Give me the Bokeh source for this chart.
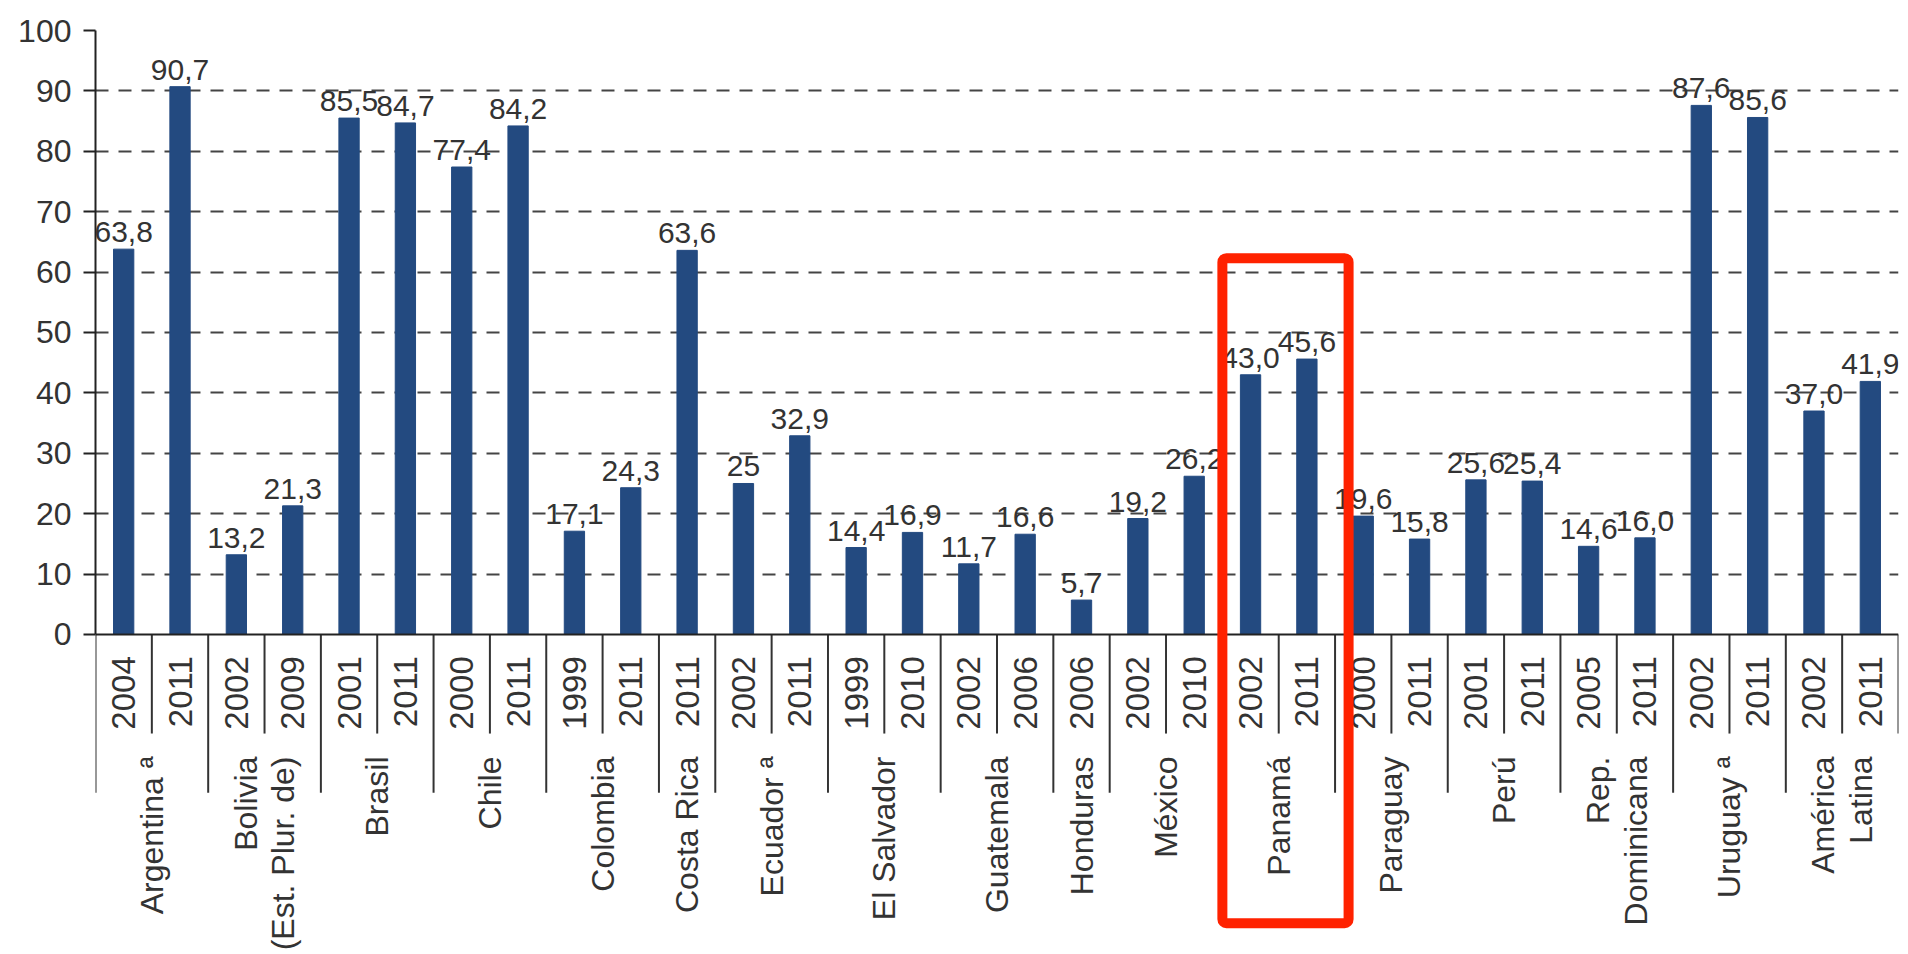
import math
import numpy as np
from bokeh.plotting import figure
from bokeh.models import ColumnDataSource, Range1d, FixedTicker, Span, BoxAnnotation
from bokeh.core.properties import value as V
from bokeh.embed import file_html
from bokeh.resources import INLINE

# ---------------- data ----------------
country = (["Argentina ª"] * 2 + ["Bolivia\n(Est. Plur. de)"] * 2 + ["Brasil"] * 2 +
           ["Chile"] * 2 + ["Colombia"] * 2 + ["Costa Rica"] + ["Ecuador ª"] * 2 +
           ["El Salvador"] * 2 + ["Guatemala"] * 2 + ["Honduras"] + ["México"] * 2 +
           ["Panamá"] * 2 + ["Paraguay"] * 2 + ["Perú"] * 2 + ["Rep.\nDominicana"] * 2 +
           ["Uruguay ª"] * 2 + ["América\nLatina"] * 2)
year = ["2004", "2011", "2002", "2009", "2001", "2011", "2000", "2011", "1999", "2011",
        "2011", "2002", "2011", "1999", "2010", "2002", "2006", "2006", "2002", "2010",
        "2002", "2011", "2000", "2011", "2001", "2011", "2005", "2011", "2002", "2011",
        "2002", "2011"]
values = [63.8, 90.7, 13.2, 21.3, 85.5, 84.7, 77.4, 84.2, 17.1, 24.3,
          63.6, 25.0, 32.9, 14.4, 16.9, 11.7, 16.6, 5.7, 19.2, 26.2,
          43.0, 45.6, 19.6, 15.8, 25.6, 25.4, 14.6, 16.0, 87.6, 85.6,
          37.0, 41.9]
value_labels = ["63,8", "90,7", "13,2", "21,3", "85,5", "84,7", "77,4", "84,2", "17,1", "24,3",
                "63,6", "25", "32,9", "14,4", "16,9", "11,7", "16,6", "5,7", "19,2", "26,2",
                "43,0", "45,6", "19,6", "15,8", "25,6", "25,4", "14,6", "16,0", "87,6", "85,6",
                "37,0", "41,9"]
y_ticks = [0, 10, 20, 30, 40, 50, 60, 70, 80, 90, 100]
highlight = "Panamá"

# ---------------- layout constants ----------------
FONT = "Liberation Sans"
TXT = "#333333"
BAR = "#234A80"
Y_BOTTOM = -52.65
YEAR_Y = -3.6
COUNTRY_Y = -20.2
SHORT_SEP = -16.4
LONG_SEP = -26.2

n = len(values)
xs = np.arange(n) + 0.5
src = ColumnDataSource(dict(x=xs, value=values, label=value_labels, year=year))

# groups from consecutive runs
groups = []
for i, c in enumerate(country):
    if i == 0 or c != country[i - 1]:
        groups.append([c, i, i + 1])
    else:
        groups[-1][2] = i + 1
gsrc = ColumnDataSource(dict(x=[(g[1] + g[2]) / 2 for g in groups],
                             name=[g[0] for g in groups]))
starts = {g[1] for g in groups}
bounds_x = list(range(n + 1))
sep_end = [LONG_SEP if (b in starts) else SHORT_SEP for b in bounds_x]
ssrc = ColumnDataSource(dict(b=bounds_x, end=sep_end))

p = figure(width=1906, height=952, x_range=Range1d(0, n), y_range=Range1d(Y_BOTTOM, 100),
           output_backend="svg", toolbar_location=None, x_axis_location=None,
           min_border_left=95, min_border_right=8, min_border_top=30, min_border_bottom=0)
p.outline_line_color = None
p.xgrid.visible = False

ax = p.yaxis[0]
ax.bounds = (0, 100)
ax.ticker = FixedTicker(ticks=y_ticks)
ax.minor_tick_line_color = None
ax.major_tick_out = 12
ax.major_tick_in = 0
ax.axis_line_width = 2
ax.axis_line_color = "#222222"
ax.major_tick_line_width = 2
ax.major_tick_line_color = "#222222"
ax.major_label_text_font = FONT
ax.major_label_text_font_size = "32px"
ax.major_label_text_color = TXT
ax.major_label_standoff = 12

g = p.ygrid[0]
g.ticker = FixedTicker(ticks=y_ticks[1:])
g.grid_line_dash = "13 10"
g.grid_line_color = "#444444"
g.grid_line_width = 2

p.vbar(x="x", top="value", bottom=0, width=0.36, source=src, fill_color=BAR, line_color=BAR)

p.add_layout(Span(location=0, dimension="width", line_color="#222222", line_width=2))

p.segment(x0="b", y0=0, x1="b", y1="end", source=ssrc, line_color="#333333", line_width=2)

p.text(x="x", y="value", text="label", source=src, text_align="center", y_offset=-17,
       text_baseline="alphabetic", text_font=V(FONT), text_font_size="30px", text_color=TXT)

p.text(x="x", y=YEAR_Y, text="year", source=src, angle=math.pi / 2, text_align="right",
       text_baseline="middle", text_font=V(FONT), text_font_size="33px", text_color=TXT)

p.text(x="x", y=COUNTRY_Y, text="name", source=gsrc, angle=math.pi / 2, text_align="right",
       text_baseline="middle", text_font=V(FONT), text_font_size="32px", text_color=TXT,
       text_line_height=1.05)

hg = [gg for gg in groups if gg[0] == highlight][0]
p.add_layout(BoxAnnotation(left=hg[1], right=hg[2] + 0.24, top=62.3, bottom=-47.8,
                           fill_color=None, fill_alpha=0, line_color="#FF2200",
                           line_alpha=1.0, line_width=10, border_radius=4))

open("out.html", "w").write(file_html(p, INLINE))
